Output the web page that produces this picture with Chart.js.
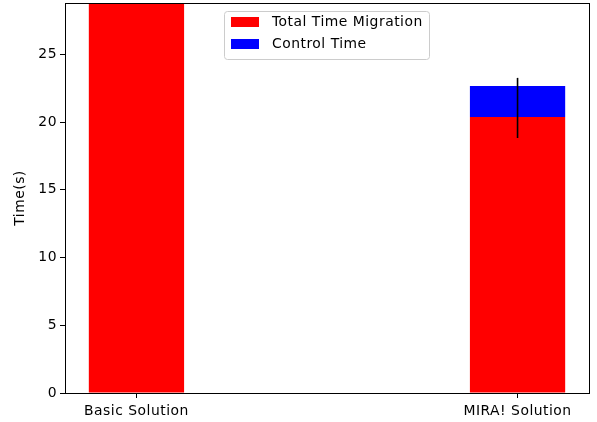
<!DOCTYPE html>
<html>
<head>
<meta charset="utf-8">
<script src="https://cdn.jsdelivr.net/npm/chart.js@4.4.0/dist/chart.umd.min.js"></script>
<style>
  html, body { margin: 0; padding: 0; background: #fff; }
  #wrap { width: 597px; height: 422px; }
</style>
</head>
<body>
<div id="wrap"><canvas id="c" width="597" height="422"></canvas></div>
<script>
// Stacked timing results per solution
const categories = ['Basic Solution', 'MIRA! Solution'];
const migrationTime = [40, 20.38];
const controlTime = [null, 2.29];
// Error bar centre and half-length (seconds)
const errCenter = [null, 21.05];
const errHalf = [null, 2.22];
const yTicks = [0, 5, 10, 15, 20, 25];
const yMax = 28.8;
const xMin = -0.1875, xMax = 1.1875;

const FONT = { family: 'DejaVu Sans', size: 13.9 };
const LETTER_SPACING = '0.5px';

// Slightly wider text spacing for every label
const spacingPlugin = {
  id: 'spacing',
  beforeDraw(chart) {
    chart.ctx.letterSpacing = LETTER_SPACING;
  }
};

// Axes frame on all four sides
const framePlugin = {
  id: 'frame',
  afterDraw(chart) {
    const { ctx, chartArea: a } = chart;
    ctx.save();
    ctx.strokeStyle = '#000';
    ctx.lineWidth = 1;
    ctx.strokeRect(Math.round(a.left) + 0.5, Math.round(a.top) + 0.5,
                   Math.round(a.right - a.left), Math.round(a.bottom - a.top));
    ctx.restore();
  }
};

// Vertical error bars without caps
const errorBarPlugin = {
  id: 'errorBars',
  afterDatasetsDraw(chart) {
    const { ctx, scales: { x, y } } = chart;
    ctx.save();
    ctx.strokeStyle = '#000';
    ctx.lineWidth = 1.6;
    errCenter.forEach((c, i) => {
      if (c == null) return;
      const px = x.getPixelForValue(i);
      ctx.beginPath();
      ctx.moveTo(px, y.getPixelForValue(c + errHalf[i]));
      ctx.lineTo(px, y.getPixelForValue(c - errHalf[i]));
      ctx.stroke();
    });
    ctx.restore();
  }
};

// Legend box drawn inside the plot area
const legendBoxPlugin = {
  id: 'legendBox',
  afterDraw(chart) {
    const { ctx } = chart;
    const bx = 224.5, by = 11.5, bw = 205, bh = 48;
    ctx.save();
    ctx.letterSpacing = LETTER_SPACING;
    ctx.beginPath();
    ctx.roundRect(bx, by, bw, bh, 3);
    ctx.fillStyle = 'rgba(255,255,255,0.8)';
    ctx.fill();
    ctx.strokeStyle = '#cccccc';
    ctx.lineWidth = 1;
    ctx.stroke();
    ctx.font = FONT.size + 'px "' + FONT.family + '"';
    ctx.textBaseline = 'middle';
    chart.data.datasets.forEach((ds, i) => {
      const rowY = 22 + i * 22;
      ctx.fillStyle = ds.backgroundColor;
      ctx.fillRect(231, rowY - 5, 28, 10);
      ctx.fillStyle = '#000';
      ctx.fillText(ds.label, 272, rowY);
    });
    ctx.restore();
  }
};

new Chart(document.getElementById('c'), {
  type: 'bar',
  data: {
    datasets: [
      {
        label: 'Total Time Migration',
        data: categories.map((c, i) => ({ x: i, y: migrationTime[i] })),
        backgroundColor: '#ff0000'
      },
      {
        label: 'Control Time',
        data: categories.map((c, i) => ({ x: i, y: controlTime[i] })),
        backgroundColor: '#0000ff'
      }
    ]
  },
  options: {
    responsive: false,
    animation: false,
    layout: { padding: { left: 0, right: 8, top: 3, bottom: 0 } },
    datasets: { bar: { categoryPercentage: 1, barPercentage: 0.25, borderWidth: 0 } },
    scales: {
      x: {
        type: 'linear',
        stacked: true,
        offset: false,
        min: xMin,
        max: xMax,
        afterBuildTicks: s => { s.ticks = categories.map((c, i) => ({ value: i })); },
        ticks: {
          callback: v => categories[v],
          font: FONT,
          color: '#000',
          padding: 5,
          maxRotation: 0,
          autoSkip: false
        },
        grid: { offset: false, drawOnChartArea: false, tickLength: 5, color: '#000' },
        border: { color: '#000' },
        afterFit: s => { s.height = 29; s.paddingLeft = 0; s.paddingRight = 0; }
      },
      y: {
        stacked: true,
        min: 0,
        max: yMax,
        afterBuildTicks: s => { s.ticks = yTicks.map(v => ({ value: v })); },
        ticks: { font: FONT, color: '#000', padding: 3 },
        grid: { drawOnChartArea: false, tickLength: 5, color: '#000' },
        border: { color: '#000' },
        title: { display: true, text: 'Time(s)', font: FONT, color: '#000', padding: { top: 12, bottom: 0 } },
        afterFit: s => { s.width = 65; s.paddingTop = 0; s.paddingBottom = 0; }
      }
    },
    plugins: { legend: { display: false }, tooltip: { enabled: false } }
  },
  plugins: [spacingPlugin, framePlugin, errorBarPlugin, legendBoxPlugin]
});
</script>
</body>
</html>
